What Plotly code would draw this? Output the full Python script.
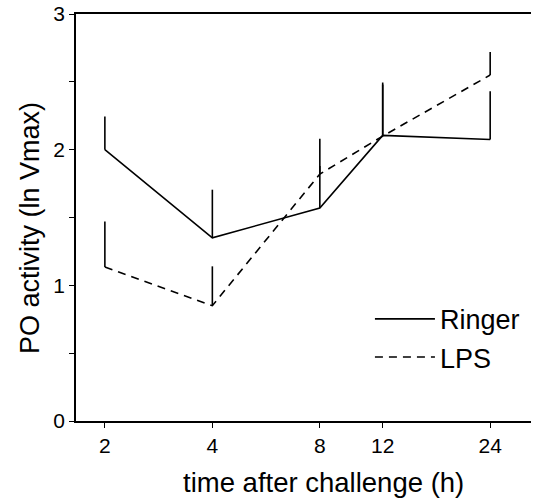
import numpy as np
import plotly.graph_objects as go

hours = [2, 4, 8, 12, 24]
tick_labels = ["2", "4", "8", "12", "24"]

ringer_mean = [2.00, 1.35, 1.57, 2.105, 2.075]
ringer_err = [0.245, 0.355, 0.51, 0.39, 0.355]

lps_mean = [1.135, 0.85, 1.82, 2.10, 2.55]
lps_err = [0.335, 0.29, 0.06, 0.38, 0.17]

FONT = "Liberation Sans, Arial, sans-serif"

fig = go.Figure()
fig.add_trace(go.Scatter(
    x=hours, y=ringer_mean, mode="lines", name="Ringer",
    line=dict(color="black", width=1.6),
    error_y=dict(type="data", array=ringer_err, arrayminus=[0]*5, symmetric=False,
                 width=0, thickness=1.6, color="black"),
))
fig.add_trace(go.Scatter(
    x=hours, y=lps_mean, mode="lines", name="LPS",
    line=dict(color="black", width=1.6, dash="8px,6px"),
    error_y=dict(type="data", array=lps_err, arrayminus=[0]*5, symmetric=False,
                 width=0, thickness=1.6, color="black"),
))

fig.update_layout(
    width=533, height=502,
    margin=dict(l=76, r=2, t=12, b=81),
    paper_bgcolor="white", plot_bgcolor="white",
    font=dict(family=FONT, color="black"),
    showlegend=True,
    legend=dict(x=0.646, y=0.31, xanchor="left", yanchor="top",
                font=dict(size=27, family=FONT), bgcolor="rgba(0,0,0,0)",
                itemwidth=60, tracegroupgap=0),
    xaxis=dict(
        type="log", range=[np.log10(2) - 29/358.6, np.log10(24) + 41/358.6],
        tickvals=hours, ticktext=tick_labels,
        showline=True, linecolor="black", linewidth=1.5, mirror=True,
        ticks="outside", ticklen=5, tickwidth=1.2, tickcolor="black",
        tickfont=dict(size=21), showgrid=False, zeroline=False,
    ),
    yaxis=dict(
        range=[0, 3], tickvals=[0, 1, 2, 3],
        showline=True, linecolor="black", linewidth=1.5,
        ticks="outside", ticklen=5, tickwidth=1.2, tickcolor="black",
        tickfont=dict(size=21), showgrid=False, zeroline=False,
        minor=dict(tickvals=[0.5, 1.5, 2.5], ticks="outside", ticklen=5,
                   tickwidth=1.2, tickcolor="black", showgrid=False),
    ),
    annotations=[
        dict(text="time after challenge (h)", xref="paper", yref="paper",
             x=(323-76)/455, y=-(483-421)/409, xanchor="center", yanchor="middle",
             showarrow=False, font=dict(size=27.5, family=FONT)),
        dict(text="PO activity (ln Vmax)", xref="paper", yref="paper",
             x=-(76-30)/455, y=(421-227)/409, xanchor="center", yanchor="middle",
             textangle=-90, showarrow=False, font=dict(size=27, family=FONT)),
    ],
)

fig.write_html("out.html", config={"displayModeBar": False},
               post_script="document.body.style.margin='0';document.body.style.overflow='hidden';")
